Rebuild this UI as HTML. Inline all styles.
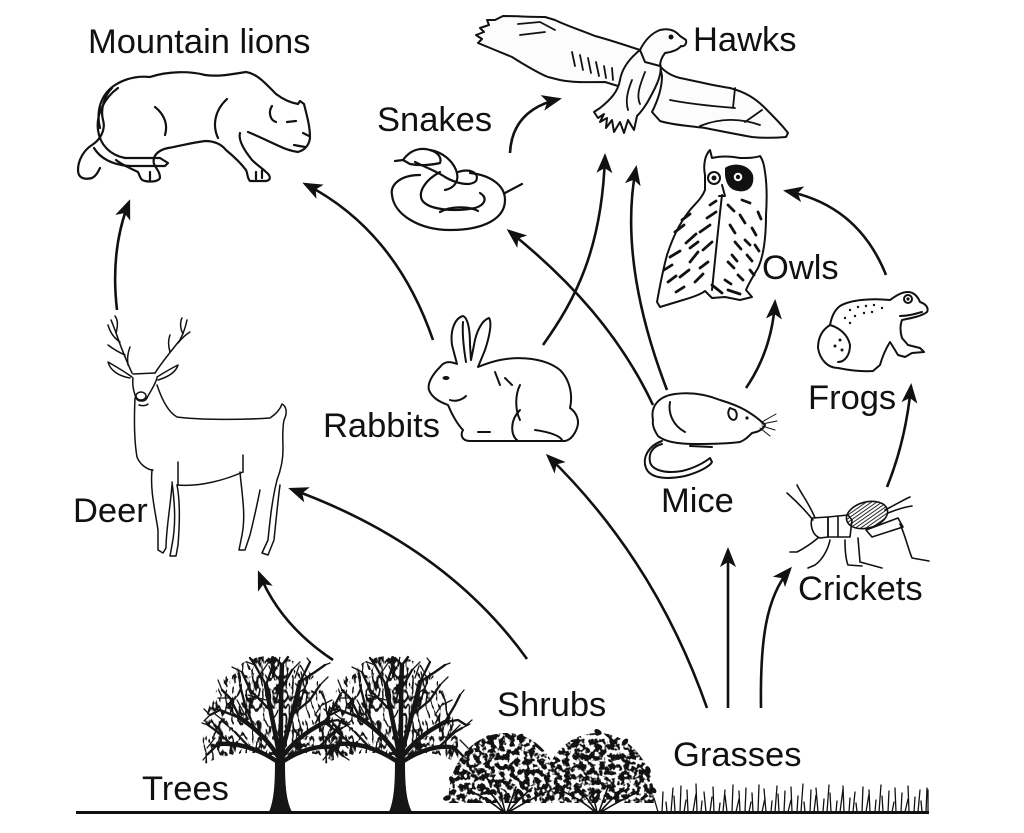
<!DOCTYPE html>
<html><head><meta charset="utf-8">
<style>
html,body{margin:0;padding:0;background:#fff;width:1024px;height:833px;overflow:hidden}
svg{display:block}
.t{font-family:"Liberation Sans",Arial,sans-serif;font-size:34.5px;fill:#111}
</style></head>
<body>
<svg width="1024" height="833" viewBox="0 0 1024 833" xmlns="http://www.w3.org/2000/svg" xmlns:xlink="http://www.w3.org/1999/xlink">
<defs>
<marker id="ah" viewBox="0 0 20 16" refX="17" refY="8" markerWidth="20" markerHeight="16" markerUnits="userSpaceOnUse" orient="auto">
<path d="M0,0 L20,8 L0,16 L5,8 Z" fill="#111"/>
</marker>
<pattern id="hatch" width="3" height="3" patternUnits="userSpaceOnUse" patternTransform="rotate(-20)">
<line x1="0" y1="1.5" x2="3" y2="1.5" stroke="#111" stroke-width="0.9"/>
</pattern>
<filter id="twig" x="0" y="0" width="1" height="1" color-interpolation-filters="sRGB">
<feTurbulence type="turbulence" baseFrequency="0.15 0.065" numOctaves="2" seed="7"/>
<feColorMatrix type="matrix" values="0 0 0 0 0.08  0 0 0 0 0.08  0 0 0 0 0.08  -12 0 0 0 2.5"/>
</filter>
<filter id="leafy" x="0" y="0" width="1" height="1" color-interpolation-filters="sRGB">
<feTurbulence type="fractalNoise" baseFrequency="0.2" numOctaves="2" seed="3"/>
<feColorMatrix type="matrix" values="0 0 0 0 0.07  0 0 0 0 0.07  0 0 0 0 0.07  10 0 0 0 -4.3"/>
</filter>
<clipPath id="dome">
<path d="M203,765 C198,700 228,656 270,656 C312,656 342,700 338,765 C322,752 302,750 286,757 L274,757 C258,750 226,752 203,765 Z"/>
</clipPath>
<clipPath id="bushes">
<path d="M449,803 C446,768 470,733 506,733 C540,733 562,765 562,803 Z"/>
<path d="M541,803 C541,765 563,733 598,733 C632,733 656,768 654,803 Z"/>
</clipPath>
</defs>
<rect width="1024" height="833" fill="#fff"/>

<!-- Labels -->
<text class="t" x="88" y="53">Mountain lions</text>
<text class="t" x="693" y="51">Hawks</text>
<text class="t" x="377" y="131">Snakes</text>
<text class="t" x="762" y="279">Owls</text>
<text class="t" x="808" y="409">Frogs</text>
<text class="t" x="323" y="437">Rabbits</text>
<text class="t" x="661" y="512">Mice</text>
<text class="t" x="73" y="522">Deer</text>
<text class="t" x="798" y="600">Crickets</text>
<text class="t" x="497" y="716">Shrubs</text>
<text class="t" x="673" y="766">Grasses</text>
<text class="t" x="142" y="800">Trees</text>

<!-- Arrows -->
<g fill="none" stroke="#111" stroke-width="2.6" marker-end="url(#ah)">
<path d="M117,310 Q110,250 129,202"/>
<path d="M433,340 Q395,230 305,184"/>
<path d="M510,153 Q512,110 559,99"/>
<path d="M543,345 C575,300 602,250 605,156"/>
<path d="M653,405 C620,335 570,280 509,231"/>
<path d="M667,390 C640,320 622,240 636,168"/>
<path d="M746,388 Q772,350 775,302"/>
<path d="M886,275 Q858,205 786,191"/>
<path d="M887,487 Q906,440 911,386"/>
<path d="M333,660 Q280,625 259,573"/>
<path d="M527,659 Q445,545 291,489"/>
<path d="M707,708 Q655,560 548,456"/>
<path d="M728,708 L728,550"/>
<path d="M761,708 C760,640 766,597 790,569"/>
</g>

<!-- Mountain lion -->
<g fill="none" stroke="#111" stroke-width="2.2" stroke-linejoin="round" stroke-linecap="round">
<path d="M100,128 C96,112 100,95 115,85 C128,77 140,76 150,77 C168,71 190,71 205,75 C220,77 232,74 246,72 C258,74 266,84 276,94 C284,100 292,103 298,104 L300,101 L304,104 L306,112 C308,120 310,128 310,138 C309,145 305,150 298,152 C291,151 285,149 279,146 C270,142 258,136 248,132"/>
<path d="M240,133 C238,140 244,150 252,160 C258,166 262,168 266,172 C270,175 272,180 266,181 L250,181 C247,178 248,174 246,170 C240,162 232,155 226,150 C222,145 215,141 205,141 C190,143 180,146 168,148"/>
<path d="M168,148 C158,150 152,156 154,164 C157,170 160,172 160,178 C158,182 150,182 145,181 C140,180 140,176 138,172 C130,168 122,165 116,160"/>
<path d="M112,88 C105,95 100,108 103,120 C106,130 100,140 92,145 C84,150 78,160 78,170 C78,178 84,180 92,178 C96,176 98,172 100,168"/>
<path d="M118,88 C104,98 96,115 98,130 C100,145 110,155 125,158 L160,158 L168,163 L165,166 L130,166 C112,165 100,158 94,148"/>
<path d="M155,107 C165,115 168,125 165,135"/>
<path d="M227,99 C215,110 212,125 218,138"/>
<path d="M272,106 C268,112 270,120 276,122"/>
<path d="M287,122 L296,121"/>
<path d="M303,133 L309,136"/>
<path d="M294,145 L305,147"/>
<path d="M262,170 L262,178 M256,172 L256,179 M150,172 L150,180"/>
</g>

<!-- Hawk -->
<g fill="#fcfcfc" stroke="#111" stroke-width="2" stroke-linejoin="round" stroke-linecap="round">
<path d="M640,50 C625,45 610,40 595,36 C580,30 565,25 555,20 L545,17 C530,17 515,16 503,16 L495,20 L487,20 L489,25 L480,28 L484,32 L476,35 L482,39 L478,43 C490,48 500,52 512,57 L520,62 C530,68 540,74 548,77 L560,80 C575,83 590,82 605,82 L618,86 C625,80 632,70 640,62 Z"/>
<path d="M660,66 C665,72 672,76 680,78 C700,82 715,86 730,88 C745,92 755,98 765,108 C775,118 783,126 788,133 L786,137 C775,138 762,138 752,137 C735,134 720,131 705,128 C690,126 672,125 660,121 L652,112 C658,100 662,88 662,76 Z"/>
<path d="M640,50 C630,58 622,68 620,80 C618,92 610,100 600,108 L594,112 L598,118 L604,114 L600,122 L607,118 L606,128 L612,120 L614,132 L620,122 L624,133 L628,120 L634,130 L637,116 C645,108 650,98 655,88 C660,78 662,70 660,63 Z"/>
<path d="M640,50 C645,40 652,33 660,30 C668,28 675,30 680,36 L686,40 C687,44 684,47 681,46 C678,50 672,52 665,53 C662,57 660,62 660,66 L645,62 Z"/>
</g>
<g fill="none" stroke="#111" stroke-width="1.8" stroke-linecap="round">
<path d="M518,24 L540,22 L555,30 M520,35 L545,32"/>
<path d="M572,52 L575,66 M580,55 L583,70 M588,58 L591,73 M596,62 L599,76 M604,66 L606,78 M612,68 L613,80"/>
<path d="M670,100 C690,104 710,106 735,108 M735,88 L733,108 M745,122 L762,110 M700,126 C720,118 740,118 760,125"/>
<path d="M632,80 C628,90 625,100 628,110 M645,72 C640,85 636,95 640,104"/>
</g>
<circle cx="671" cy="37" r="2.5" fill="#111"/>

<!-- Snake -->
<g fill="none" stroke="#111" stroke-width="2.2" stroke-linecap="round" stroke-linejoin="round">
<path d="M420,175 C400,175 390,185 392,195 C394,215 420,230 450,230 C485,230 505,218 505,200 C505,185 490,175 470,173"/>
<path d="M440,172 C425,180 418,192 422,200 C428,210 455,212 475,208 C485,205 488,198 480,193"/>
<path d="M440,212 C450,206 470,206 478,211"/>
<path d="M415,162 C425,167 438,172 445,177 C455,183 470,187 476,181 C480,173 470,168 458,172"/>
<path d="M403,160 C410,150 420,147 430,150 C438,152 442,158 440,163 C432,165 420,166 410,164 Z"/>
<path d="M430,150 C442,152 452,160 456,170 C460,180 455,188 445,190"/>
<path d="M403,160 L395,161"/>
<path d="M505,193 L522,184"/>
</g>

<!-- Owl -->
<g fill="none" stroke="#111" stroke-width="2" stroke-linejoin="round" stroke-linecap="round">
<path d="M705,175 C703,165 705,155 710,150 L712,158 C720,156 730,156 740,158 C748,158 755,158 760,156 C763,160 764,165 765,172 C767,185 767,200 766,215 C766,235 764,255 758,268 C752,278 748,285 746,290 L752,297 L740,300 L725,297 L712,298 L705,291 C700,295 690,298 683,300 L660,307 L657,302 C660,285 663,270 667,255 C672,240 678,225 690,210 C696,203 702,198 705,190 Z"/>
<path d="M722,195 C718,230 715,260 712,290"/>
<path d="M722,185 L725,196 L719,196"/>
</g>
<path d="M725,168 C733,162 749,164 753,175 C755,186 748,193 738,191 C730,190 726,184 725,175 Z" fill="#111"/>
<circle cx="738" cy="177" r="5" fill="#fff" stroke="#111" stroke-width="1.5"/>
<circle cx="738" cy="177" r="2.2" fill="#111"/>
<circle cx="714" cy="178" r="6" fill="#fff" stroke="#111" stroke-width="2"/>
<circle cx="714" cy="178" r="2.5" fill="#111"/>
<g fill="none" stroke="#111" stroke-width="2.8" stroke-linecap="round">
<path d="M675,232 l9,-7 M686,243 l10,-9 M670,257 l10,-6 M690,262 l8,-10 M700,232 l10,-7 M680,277 l9,-7 M695,282 l8,-8 M707,218 l9,-6 M703,250 l9,-8 M668,282 l8,-6 M700,268 l8,-6 M682,220 l8,-6 M664,270 l8,-5 M690,248 l8,-6 M710,205 l6,-4 M676,292 l8,-5"/>
<path d="M740,215 l5,8 M752,228 l4,7 M735,242 l6,7 M747,255 l5,6 M728,262 l6,6 M742,200 l8,3 M730,225 l5,8 M755,245 l4,6 M738,275 l5,5 M725,280 l6,4 M758,212 l3,7 M728,205 l6,6 M745,240 l5,5 M732,255 l5,6 M750,270 l4,5"/>
<path d="M712,285 l10,8 M728,290 l12,4"/>
</g>

<!-- Frog -->
<g fill="none" stroke="#111" stroke-width="2" stroke-linejoin="round" stroke-linecap="round">
<path d="M840,306 C850,300 870,298 890,300 C897,295 902,292 908,292 C914,292 918,297 920,302 C926,304 929,308 927,312 C922,316 912,318 902,320 C900,325 900,332 902,338 L908,345 L920,348 L924,352 L912,353 L905,357 L898,355 C895,350 892,345 890,342 C885,350 882,358 880,365 L873,371 C860,372 848,370 838,368 C828,368 820,360 818,348 C818,338 822,330 830,325 C832,315 835,310 840,306 Z"/>
<path d="M830,325 C840,328 848,335 850,345 C850,355 845,362 838,362"/>
<path d="M900,316 C908,316 915,314 922,312"/>
<circle cx="908" cy="299" r="4"/>
</g>
<g fill="#111">
<circle cx="908" cy="299" r="1.6"/>
<circle cx="850" cy="310" r="1.2"/><circle cx="858" cy="307" r="1.2"/><circle cx="866" cy="306" r="1.2"/><circle cx="874" cy="305" r="1.2"/><circle cx="845" cy="318" r="1.2"/><circle cx="855" cy="316" r="1.2"/><circle cx="864" cy="313" r="1.2"/><circle cx="872" cy="312" r="1.2"/><circle cx="882" cy="308" r="1.2"/><circle cx="840" cy="340" r="1.5"/><circle cx="835" cy="346" r="1.5"/><circle cx="842" cy="350" r="1.5"/><circle cx="850" cy="323" r="1.2"/>
</g>

<!-- Rabbit -->
<g fill="none" stroke="#111" stroke-width="2" stroke-linejoin="round" stroke-linecap="round">
<path d="M440,367 C445,360 452,362 457,364 L452,345 C450,330 455,318 463,316 C468,318 470,330 470,345 L471,360 L474,345 C476,332 482,320 489,318 C492,322 490,335 485,350 L478,367 C483,365 490,362 500,360 C520,356 545,358 560,370 C570,380 573,395 570,408 C576,412 580,420 577,428 C574,436 570,440 565,441 L470,441 C462,441 460,435 463,430 C458,425 452,415 448,405 C440,402 432,398 429,390 C427,384 432,375 440,367 Z"/>
<path d="M463,322 C462,335 464,350 466,362"/>
<path d="M520,410 C510,420 510,435 518,441"/>
<path d="M520,385 C515,395 515,410 520,420"/>
<path d="M535,430 C550,432 560,436 562,440"/>
<path d="M478,432 L490,432 M450,400 C455,402 462,400 466,396"/>
<path d="M495,372 L500,385 M505,378 L512,385"/>
</g>
<ellipse cx="446" cy="378" rx="3.5" ry="2" fill="#111"/>

<!-- Mouse -->
<g fill="none" stroke="#111" stroke-width="2" stroke-linejoin="round" stroke-linecap="round">
<path d="M653,420 C650,405 660,396 675,394 C690,392 705,394 720,400 C730,403 738,406 745,410 C752,414 760,420 765,425 C763,430 758,432 752,433 C748,437 745,440 740,442 C725,444 710,444 695,444 C680,444 665,442 658,436 C654,430 652,425 653,420 Z"/>
<path d="M730,408 C727,412 728,418 733,420 C737,420 738,414 735,410 Z"/>
<path d="M670,402 C668,412 672,425 685,432"/>
<path d="M662,441 C648,446 642,458 646,468 C650,478 665,480 685,476 C700,472 710,466 712,462 L710,458 C705,462 695,468 682,471 C665,474 652,470 650,462 C648,452 654,446 662,444"/>
<path d="M690,446 L712,447"/>
</g>
<g fill="none" stroke="#111" stroke-width="1" stroke-linecap="round">
<path d="M762,422 L776,414 M762,424 L777,421 M762,426 L775,430 M760,428 L770,436"/>
</g>
<circle cx="747" cy="418" r="1.6" fill="#111"/>

<!-- Deer -->
<g fill="none" stroke="#111" stroke-width="1.5" stroke-linejoin="round" stroke-linecap="round">
<path d="M132,373 C126,360 120,345 115,330 C113,325 112,322 111,320"/>
<path d="M120,342 C114,338 110,332 108,325"/>
<path d="M125,355 C118,352 112,348 108,345"/>
<path d="M128,365 C127,358 128,352 130,347"/>
<path d="M116,333 C118,326 118,320 115,316"/>
<path d="M155,373 C162,362 172,350 180,340 C184,332 186,325 187,320"/>
<path d="M170,352 C168,345 168,340 170,335"/>
<path d="M178,343 C182,338 185,335 190,332"/>
<path d="M183,334 C180,328 180,322 182,318"/>
<path d="M132,377 C125,372 115,366 108,362 C110,370 118,376 130,378"/>
<path d="M157,377 C165,372 172,368 178,365 C176,372 168,377 158,380"/>
<path d="M133,374 L155,373"/>
<path d="M133,378 C132,386 134,392 136,398 C138,402 145,402 147,398 C150,392 155,385 157,378"/>
<ellipse cx="141" cy="396" rx="5" ry="4"/>
<path d="M139,405 C142,406 146,406 148,404"/>
<path d="M135,398 C134,420 134,440 137,457 C140,465 148,470 153,470"/>
<path d="M157,385 C162,400 168,412 177,417 C200,420 240,420 270,418 C276,414 280,410 282,404 C286,406 288,412 284,420 C282,430 283,440 283,450 C283,462 280,472 277,480"/>
<path d="M177,485 C200,487 225,480 243,472"/>
<path d="M152,470 C150,490 155,510 158,530 L158,550 L163,553 L166,548 C166,530 170,510 172,485"/>
<path d="M172,482 C175,505 176,525 172,545 L170,556 L176,556 L178,545 C180,520 180,500 177,485"/>
<path d="M240,472 C242,495 246,515 242,535 L239,550 L245,550 L250,535 C255,515 258,500 260,490"/>
<path d="M277,480 C272,500 270,520 268,540 L262,553 L268,555 L274,540 C276,520 278,500 280,485"/>
<path d="M243,455 L243,472 M178,462 L178,485"/>
</g>

<!-- Cricket -->
<g fill="none" stroke="#111" stroke-width="1.6" stroke-linejoin="round" stroke-linecap="round">
<path d="M813,520 C805,510 795,500 787,493"/>
<path d="M815,518 C810,505 802,495 797,485"/>
<path d="M812,518 C810,525 812,535 820,538 L828,537 L828,517 Z"/>
<path d="M828,517 L848,515 L852,520 L850,537 L828,537 Z M838,516 L838,537"/>
<ellipse cx="867" cy="515" rx="21" ry="13" transform="rotate(-15 867 515)" fill="url(#hatch)"/>
<path d="M885,510 C895,505 903,500 910,497 M888,513 C898,509 905,507 912,506"/>
<path d="M866,530 L898,518 L903,527 L872,537 Z" fill="#fff"/>
<path d="M900,524 C905,535 908,548 912,558 L929,561"/>
<path d="M818,538 C812,543 805,548 797,552 L790,552"/>
<path d="M830,540 C828,550 822,560 815,565 L808,568"/>
<path d="M845,540 C845,550 846,560 848,565 L862,566"/>
<path d="M858,538 L860,562 L882,568"/>
</g>

<!-- Trees -->
<g id="tree">
<g clip-path="url(#dome)">
<rect x="196" y="650" width="150" height="118" fill="#fff" filter="url(#twig)"/>
</g>
<g transform="translate(280,760)" fill="none" stroke="#151515" stroke-linecap="round" stroke-linejoin="round">
<path d="M-11,52 C-6,40 -5,25 -5,0 L5,0 C5,25 6,40 12,52 Z" fill="#151515" stroke="none"/>
<path stroke-width="4.5" d="M0,0 C-8,-15 -22,-30 -40,-42 M0,0 C-4,-25 -10,-50 -14,-75 M0,0 C2,-30 0,-60 2,-95 M0,0 C6,-25 14,-50 20,-78 M0,0 C10,-15 25,-28 45,-38 M-2,2 C-20,-10 -40,-18 -62,-16 M2,2 C20,-10 40,-16 55,-12"/>
<path stroke-width="2.3" d="M-40,-42 L-60,-50 L-70,-45 M-40,-42 L-50,-62 L-58,-70 M-25,-30 L-35,-55 L-40,-75 M-62,-16 L-72,-6 M-50,-17 L-65,-30 L-72,-35 M-30,-12 L-45,-28 M-14,-75 L-25,-95 L-30,-102 M-14,-75 L-5,-100 M-10,-50 L-30,-70 L-38,-88 M2,-95 L-5,-102 M2,-95 L8,-103 M1,-70 L12,-90 M20,-78 L30,-98 M20,-78 L35,-88 L45,-95 M12,-45 L30,-60 L40,-75 M45,-38 L55,-55 L60,-65 M45,-38 L58,-40 L66,-35 M55,-12 L63,-4 M40,-14 L55,-28 L62,-32"/>
<path stroke-width="1.3" d="M-70,-45 l-6,-6 M-58,-70 l-4,-10 M-60,-50 l-10,-2 M-40,-75 l-2,-12 M-25,-95 l-8,-3 M-5,-100 l-2,-3 M30,-98 l-3,-4 M45,-95 l5,-2 M40,-75 l8,-8 M60,-65 l4,-5 M66,-35 l6,-5 M63,-4 l6,4 M-72,-6 l-5,6 M-72,-35 l-6,-2 M-45,-28 l-12,-10 M-38,-88 l-10,-5 M12,-90 l8,-8 M42,-55 l10,-5 M62,-32 l8,-4 M-70,-45 l-6,6 M-50,-62 l-12,0 M-14,-60 l-18,-5 M10,-60 l15,-12 M-20,-85 l8,-12 M25,-70 l-4,-18 M-55,-38 l-10,-8 M50,-25 l10,-10 M-35,-45 l-8,-15 M35,-45 l8,-12 M-5,-80 l-6,-14 M15,-82 l4,-12 M-65,-22 l-8,10 M60,-20 l8,8"/>
</g>
</g>
<use xlink:href="#tree" href="#tree" x="120" y="0"/>

<!-- Shrubs -->
<g clip-path="url(#bushes)">
<rect x="444" y="728" width="216" height="80" fill="#fff" filter="url(#leafy)"/>
</g>
<g fill="#111">
<ellipse cx="470" cy="752" rx="4" ry="2.5" transform="rotate(-30 470 752)"/>
<ellipse cx="490" cy="738" rx="4" ry="2.5" transform="rotate(20 490 738)"/>
<ellipse cx="520" cy="737" rx="4" ry="2.5" transform="rotate(-40 520 737)"/>
<ellipse cx="452" cy="780" rx="4" ry="2.5" transform="rotate(60 452 780)"/>
<ellipse cx="574" cy="745" rx="4" ry="2.5" transform="rotate(-20 574 745)"/>
<ellipse cx="598" cy="732" rx="4" ry="2.5" transform="rotate(30 598 732)"/>
<ellipse cx="625" cy="742" rx="4" ry="2.5" transform="rotate(-50 625 742)"/>
<ellipse cx="648" cy="770" rx="4" ry="2.5" transform="rotate(70 648 770)"/>
<ellipse cx="653" cy="790" rx="4" ry="2.5" transform="rotate(40 653 790)"/>
<ellipse cx="447" cy="798" rx="4" ry="2.5" transform="rotate(-20 447 798)"/>
</g>
<g fill="none" stroke="#111" stroke-width="1.6" stroke-linecap="round">
<path d="M503,812 Q490,800 468,790 M504,812 Q496,798 484,786 M505,812 Q502,798 498,788 M507,812 Q512,798 516,787 M508,812 Q518,800 532,788 M509,812 Q525,802 546,792"/>
<path d="M595,812 Q582,800 560,790 M596,812 Q588,798 576,786 M597,812 Q594,798 590,788 M599,812 Q604,798 608,787 M600,812 Q610,800 624,788 M601,812 Q617,802 638,792"/>
</g>

<!-- Grass -->
<path fill="none" stroke="#111" stroke-width="1.3" stroke-linecap="round" d="M658,812 l-4,-14 M662,812 l1,-20 M667,812 l-1,-10 M671,812 l2,-24 M675,812 l-1,-16 M680,812 l1,-26 M684,812 l2,-12 M688,812 l-1,-22 M693,812 l3,-18 M697,812 l-1,-28 M701,812 l1,-11 M706,812 l-2,-20 M710,812 l2,-15 M714,812 l-1,-25 M719,812 l1,-9 M723,812 l2,-22 M727,812 l-2,-17 M732,812 l1,-27 M736,812 l3,-13 M740,812 l-1,-21 M745,812 l1,-24 M749,812 l2,-10 M753,812 l-1,-19 M758,812 l1,-27 M762,812 l3,-14 M766,812 l-2,-23 M771,812 l1,-11 M775,812 l2,-26 M779,812 l-1,-18 M784,812 l1,-21 M788,812 l3,-12 M792,812 l-1,-25 M797,812 l1,-16 M801,812 l2,-28 M805,812 l-1,-10 M810,812 l1,-22 M814,812 l2,-17 M818,812 l-2,-24 M823,812 l1,-13 M827,812 l2,-27 M831,812 l-1,-19 M836,812 l1,-11 M840,812 l3,-23 M844,812 l-1,-26 M849,812 l1,-14 M853,812 l2,-20 M857,812 l-1,-9 M862,812 l1,-25 M866,812 l3,-18 M870,812 l-1,-22 M875,812 l1,-12 M879,812 l2,-27 M883,812 l-1,-16 M888,812 l1,-21 M892,812 l2,-10 M896,812 l-1,-24 M901,812 l1,-19 M905,812 l3,-13 M909,812 l-1,-26 M914,812 l1,-15 M918,812 l2,-22 M922,812 l-1,-11 M926,812 l1,-24 M928,812 l0,-22"/>

<!-- Ground line -->
<line x1="76" y1="812.5" x2="929" y2="812.5" stroke="#111" stroke-width="3"/>
</svg>
</body></html>
